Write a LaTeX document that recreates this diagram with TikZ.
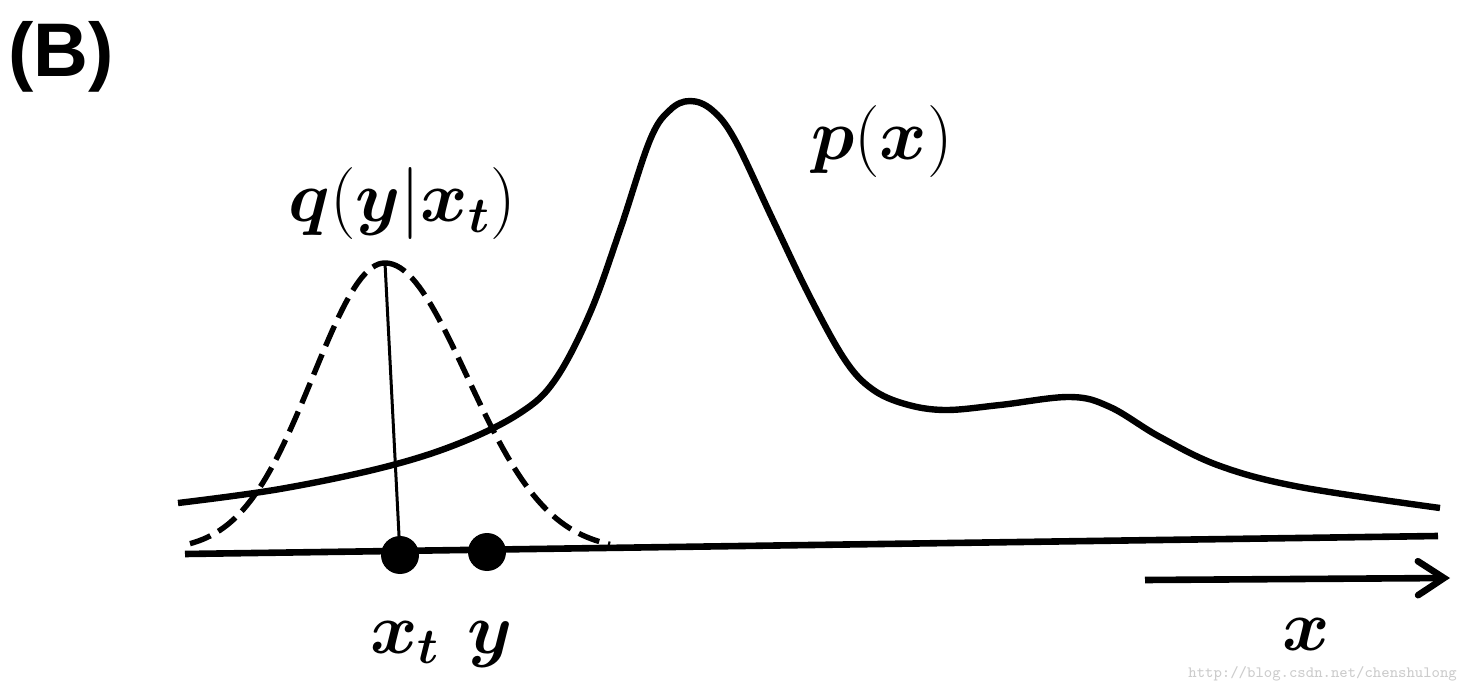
\RequirePackage{fix-cm}
\documentclass[tikz,border=0pt]{standalone}
\usepackage{amsmath}
\usepackage{fontspec}
\newfontfamily\panelfont{Liberation Sans}
\usetikzlibrary{arrows.meta}
\newcommand{\bsy}[1]{\boldsymbol{#1}}

\begin{document}
\begin{tikzpicture}[x=0.5pt,y=-0.5pt]
\tikzset{axe/.style={line width=3.3pt},
  courbe/.style={line width=3.2pt, line join=round},
  gauss/.style={line width=2.7pt, dash pattern=on 11pt off 4.5pt},
  pt/.style={circle, fill=black, inner sep=0pt, minimum size=19pt},
  lbl/.style={anchor=base, inner sep=0pt, font=\fontsize{36}{40}\selectfont}}
\useasboundingbox (0,0) rectangle (1464,690);
\node[anchor=base west, inner sep=0pt, font=\panelfont\bfseries\fontsize{38}{42}\selectfont] (B) at (8,77) {(B)};
% q(y|x_t)
\coordinate (qtop) at (385,263);
\draw[gauss] plot[domain=190:385, samples=60] (\x, {551-288*exp(-0.5*((\x-385)/72)^2)});
\draw[gauss] plot[domain=385:610, samples=60] (\x, {551-288*exp(-0.5*((\x-385)/82)^2)});
% p(x)
\draw[courbe] plot[smooth, tension=0.6] coordinates {(178,503) (280,489) (385,467) (460,443)
  (520,413) (555,380) (590,313) (620,230) (650,140) (670,110) (690,101) (712,110) (735,140)
  (773,220) (810,297) (845,360) (872,389) (905,404) (945,410) (1000,405) (1070,397) (1110,407)
  (1160,437) (1220,466) (1300,487) (1440,508)};
\coordinate (a0) at (185,554);
\coordinate (a1) at (1438,536);
\draw[axe] (a0) -- (a1);
\node[pt] (xt) at (400,555) {};
\node[pt] (y) at (487,552) {};
\draw[line width=1.5pt] (qtop) -- (xt.center);
\coordinate (f0) at (1145,580);
\coordinate (f1) at (1450,578);
\draw[axe, -{Straight Barb[length=13pt, width=17pt, line cap=round]}] (f0) -- (f1);
\node[lbl] (lq) at (402,222) {$\bsy{q}(\bsy{y}|\bsy{x}_{\bsy{t}})$};
\node[lbl] (lp) at (882,160) {$\bsy{p}(\bsy{x})$};
\node[lbl] (lxt) at (405,653) {$\bsy{x}_{\bsy{t}}$};
\node[lbl] (ly) at (490,653) {$\bsy{y}$};
\node[lbl] (lx) at (1306,650) {$\bsy{x}$};
\node[anchor=base west, inner sep=0pt, text=black!20, font=\ttfamily\fontsize{7.9}{9}\selectfont] (url) at (1188,677) {http://blog.csdn.net/chenshulong};
\end{tikzpicture}
\end{document}
